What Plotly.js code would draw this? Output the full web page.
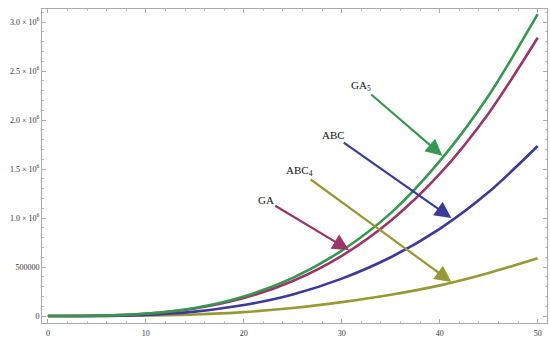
<!DOCTYPE html>
<html>
<head>
<meta charset="utf-8">
<script src="https://cdn.plot.ly/plotly-3.0.1.min.js"></script>
<style>html,body{margin:0;padding:0;background:#fff;}#chart{width:550px;height:341px;}</style>
</head>
<body>
<div id="chart"></div>
<script>
// Data
const xValues = [0, 5, 10, 15, 20, 25, 30, 35, 40, 45, 50];
const seriesGA5  = [0, 3000, 25000, 83000, 200000, 390000, 668000, 1050000, 1580000, 2250000, 3080000];
const seriesGA   = [0, 2800, 23000, 77000, 183000, 358000, 615000, 973000, 1450000, 2070000, 2840000];
const seriesABC  = [0, 1300, 12000, 45000, 112000, 220000, 382000, 600000, 890000, 1265000, 1735000];
const seriesABC4 = [0, 800, 5000, 16000, 40000, 82000, 142000, 217000, 313000, 440000, 590000];
const seriesNames = ["GA5", "GA", "ABC", "ABC4"];
const seriesColors = ["#35984f", "#9b3468", "#3a3a9c", "#999934"];

const yTickVals = [0, 500000, 1000000, 1500000, 2000000, 2500000, 3000000];
const yTickText = ["0", "500000", "1.0 × 10<sup>6</sup>", "1.5 × 10<sup>6</sup>", "2.0 × 10<sup>6</sup>", "2.5 × 10<sup>6</sup>", "3.0 × 10<sup>6</sup>"];
const xTickVals = [0, 10, 20, 30, 40, 50];

// Labels with arrows: label text, label position, arrow tip (data coords)
const labelText = ["GA<sub>5</sub>", "ABC", "ABC<sub>4</sub>", "GA"];
const labelX = [32.0, 29.11, 25.64, 22.24];
const labelY = [2347000, 1847000, 1480000, 1184000];
const tipX = [40.26, 41.19, 41.19, 30.74];
const tipY = [1636000, 1000000, 347000, 673000];
const labelColors = ["#35984f", "#3a3a9c", "#999934", "#9b3468"];

const allSeries = [seriesGA5, seriesGA, seriesABC, seriesABC4];
const traces = allSeries.map((s, i) => ({
  x: xValues, y: s, name: seriesNames[i], type: "scatter", mode: "lines",
  line: {color: seriesColors[i], width: 2.6, shape: "spline", smoothing: 0.8},
  hoverinfo: "skip"
})).reverse();

const annotations = [];
for (let i = 0; i < labelText.length; i++) {
  annotations.push({
    x: tipX[i], y: tipY[i], ax: labelX[i], ay: labelY[i], xref: "x", yref: "y", axref: "x", ayref: "y",
    text: labelText[i], showarrow: true, arrowhead: 2, arrowsize: 1.5, arrowwidth: 2.2,
    arrowcolor: labelColors[i], standoff: 0, borderpad: 1,
    font: {family: "Liberation Serif, Times New Roman, serif", size: 11, color: "#111"}
  });
}

const axisFont = {family: "Liberation Serif, Times New Roman, serif", size: 8, color: "#333"};
const layout = {
  width: 550, height: 341,
  margin: {l: 42, r: 3, t: 9, b: 18},
  paper_bgcolor: "#fff", plot_bgcolor: "#fff",
  showlegend: false,
  xaxis: {
    range: [-0.6, 50.95], tickvals: xTickVals, ticks: "inside", ticklen: 4, tickcolor: "#aaa",
    showline: true, linecolor: "#aaa", linewidth: 1, mirror: "ticks", showgrid: false, zeroline: false,
    tickfont: axisFont, ticklabelstandoff: 2,
    minor: {dtick: 2, tick0: 0, ticks: "inside", ticklen: 2, tickcolor: "#bbb", showgrid: false}
  },
  yaxis: {
    range: [-71000, 3133000], tickvals: yTickVals, ticktext: yTickText, ticks: "inside", ticklen: 4, tickcolor: "#aaa",
    showline: true, linecolor: "#aaa", linewidth: 1, mirror: "ticks", showgrid: false, zeroline: false,
    tickfont: axisFont,
    minor: {dtick: 100000, tick0: 0, ticks: "inside", ticklen: 2, tickcolor: "#bbb", showgrid: false}
  },
  annotations: annotations
};
Plotly.newPlot("chart", traces, layout, {displayModeBar: false, staticPlot: true});
</script>
</body>
</html>
